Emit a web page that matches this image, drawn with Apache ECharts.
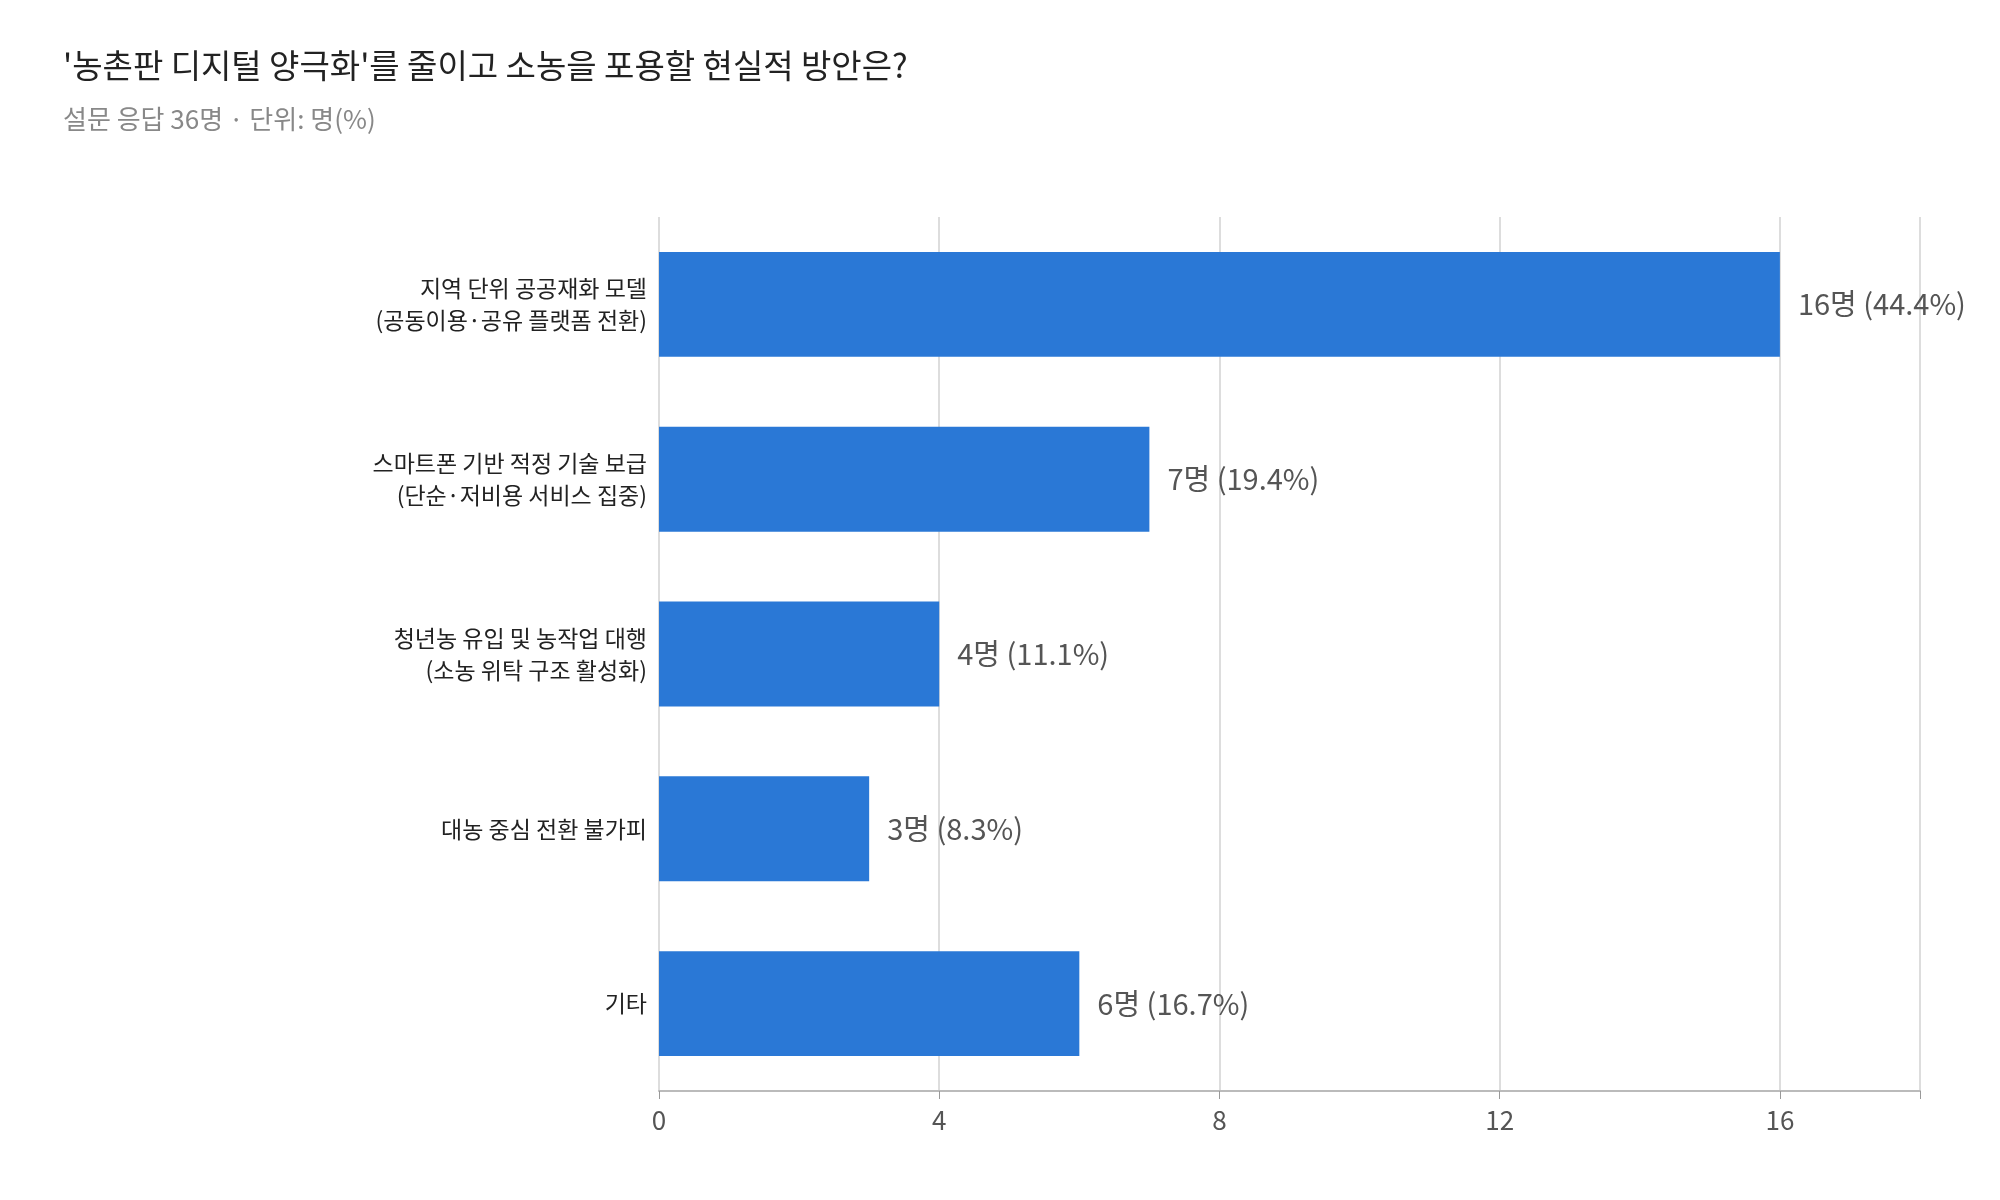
<!DOCTYPE html>
<html>
<head>
<meta charset="utf-8">
<script src="https://cdn.jsdelivr.net/npm/echarts@6/dist/echarts.min.js"></script>
<style>
  html, body { margin: 0; padding: 0; background: #fff; }
  #chart { width: 2000px; height: 1200px; }
</style>
</head>
<body>
<div id="chart"></div>
<script>
const categories = [
  '지역 단위 공공재화 모델\n(공동이용·공유 플랫폼 전환)',
  '스마트폰 기반 적정 기술 보급\n(단순·저비용 서비스 집중)',
  '청년농 유입 및 농작업 대행\n(소농 위탁 구조 활성화)',
  '대농 중심 전환 불가피',
  '기타'
];
const counts = [16, 7, 4, 3, 6];
const percents = ['44.4', '19.4', '11.1', '8.3', '16.7'];
const xTicks = [0, 4, 8, 12, 16];

const font = '"Noto Sans CJK KR", "Noto Sans", sans-serif';
const chart = echarts.init(document.getElementById('chart'));

chart.setOption({
  animation: false,
  textStyle: { fontFamily: font },
  title: {
    text: "'농촌판 디지털 양극화'를 줄이고 소농을 포용할 현실적 방안은?",
    subtext: '설문 응답 36명 · 단위: 명(%)',
    left: 58,
    top: 44,
    itemGap: 24,
    textStyle: { fontSize: 33, fontWeight: 'normal', color: '#222', fontFamily: font },
    subtextStyle: { fontSize: 26, color: '#888', fontFamily: font }
  },
  grid: { left: 659, right: 80, top: 217, bottom: 109, containLabel: false },
  xAxis: {
    type: 'value',
    min: 0,
    max: 18,
    interval: 4,
    axisLine: { show: true, lineStyle: { color: '#bbb', width: 2 } },
    axisTick: { show: true, length: 8, lineStyle: { color: '#999' } },
    axisLabel: {
      fontSize: 26, color: '#555', margin: 16,
      formatter: v => xTicks.includes(v) ? String(v) : ''
    },
    splitLine: { show: true, lineStyle: { color: '#ddd', width: 2 } }
  },
  yAxis: {
    type: 'category',
    inverse: true,
    data: categories,
    axisLine: { show: false },
    axisTick: { show: false },
    axisLabel: { fontSize: 23, color: '#222', lineHeight: 32, margin: 12, align: 'right' }
  },
  series: [{
    type: 'bar',
    data: counts,
    barCategoryGap: '40%',
    itemStyle: { color: '#2a78d6' },
    label: {
      show: true,
      position: 'right',
      distance: 18,
      fontSize: 29,
      color: '#555',
      formatter: p => `${counts[p.dataIndex]}명 (${percents[p.dataIndex]}%)`
    }
  }]
});
</script>
</body>
</html>
